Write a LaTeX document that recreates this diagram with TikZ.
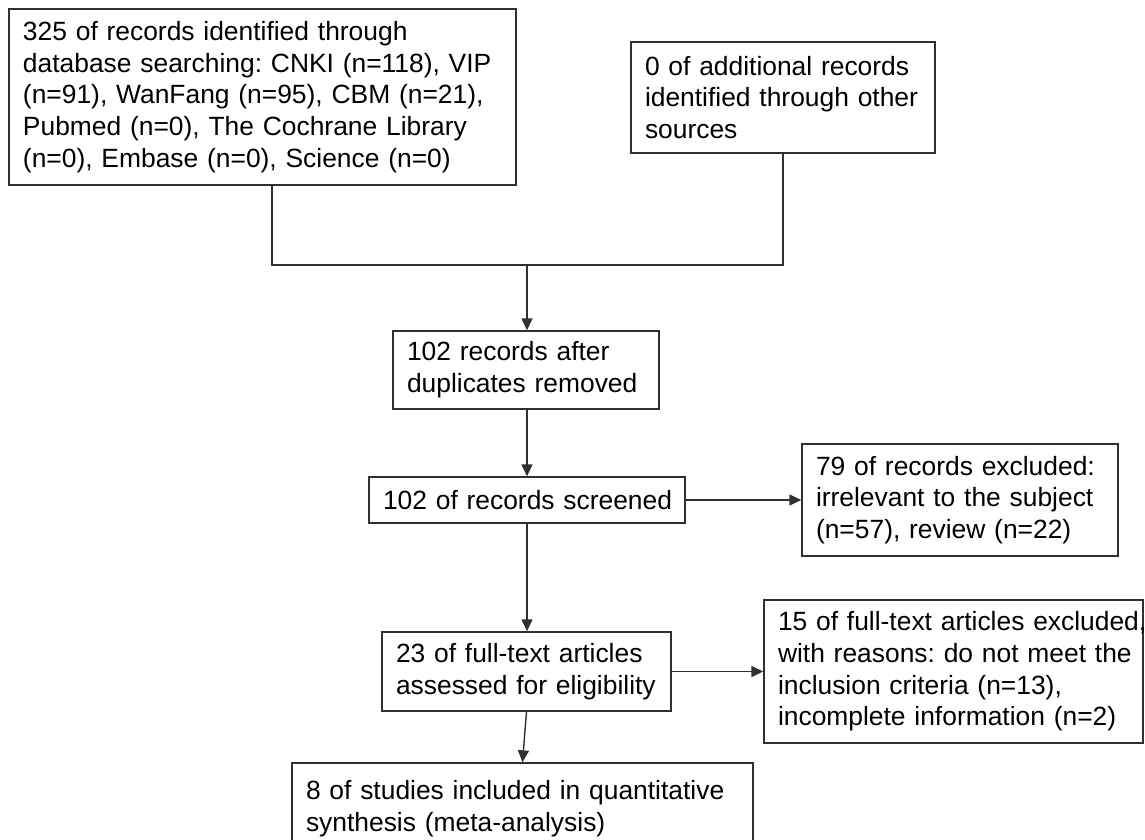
\documentclass[tikz,border=0pt]{standalone}
\usepackage{fontspec}
\setmainfont{Liberation Sans}
\usetikzlibrary{arrows.meta,calc}
\frenchspacing
\definecolor{ln}{HTML}{303030}
\tikzset{
  box/.style={draw=ln, line width=1.4pt, align=left, inner xsep=14pt, inner ysep=0pt,
    font=\fontsize{26.4}{31.7}\selectfont, text=black},
  conn/.style={draw=ln, line width=1.4pt},
  arr/.style={conn, -{Triangle[length=12pt,width=11pt]}}
}
\newcommand{\bx}[6]{% name, cx, cy, w, h, text
  \node[box, text width=#4pt-28pt, minimum height=#5pt] (#1) at (#2,#3) {#6};}
\newcommand{\tl}[1]{\mbox{#1}}
\begin{document}
\begin{tikzpicture}[x=1pt,y=-1pt]
\useasboundingbox (0,0) rectangle (1145,839);
\fill[white] (0,0) rectangle (1145,839);
\bx{b1}{262.5}{97}{507}{176}{\tl{325 of records identified through}\\\tl{database searching: CNKI (n=118), VIP}\\\tl{(n=91), WanFang (n=95), CBM (n=21),}\\\tl{Pubmed (n=0), The Cochrane Library}\\\tl{(n=0), Embase (n=0), Science (n=0)}}
\bx{b2}{783}{97.5}{304}{111}{\tl{0 of additional records}\\\tl{identified through other}\\\tl{sources}}
\bx{b3}{526}{370}{266}{78}{\tl{102 records after}\\\tl{duplicates removed}}
\bx{b4}{527}{500}{316}{46}{\tl{102 of records screened}}
\bx{b5}{960}{500}{316}{112}{\tl{79 of records excluded:}\\\tl{irrelevant to the subject}\\\tl{(n=57), review (n=22)}}
\bx{b6}{953.5}{671.5}{379}{143}{\tl{15 of full-text articles excluded,}\\\tl{with reasons: do not meet the}\\\tl{inclusion criteria (n=13),}\\\tl{incomplete information (n=2)}}
\bx{b7}{526.5}{671.5}{289}{79}{\tl{23 of full-text articles}\\\tl{assessed for eligibility}}
\bx{b8}{522.5}{809}{461}{92}{\tl{8 of studies included in quantitative}\\\tl{synthesis (meta-analysis)}}
\coordinate (jl) at (272,265);
\coordinate (jr) at (783,265);
\coordinate (jm) at (527,265);
\draw[conn] (b1.south -| jl) -- (jl) -- (jr) -- (b2.south);
\draw[arr] (jm) -- (b3.north -| jm);
\draw[arr] (b3.south -| jm) -- (b4.north -| jm);
\draw[arr] (b4.east) -- (b5.west);
\draw[arr] (b4.south -| jm) -- (b7.north -| jm);
\draw[arr] (b7.east) -- (b6.west);
\draw[arr] (b7.south) -- (b8.north);
\end{tikzpicture}
\end{document}
